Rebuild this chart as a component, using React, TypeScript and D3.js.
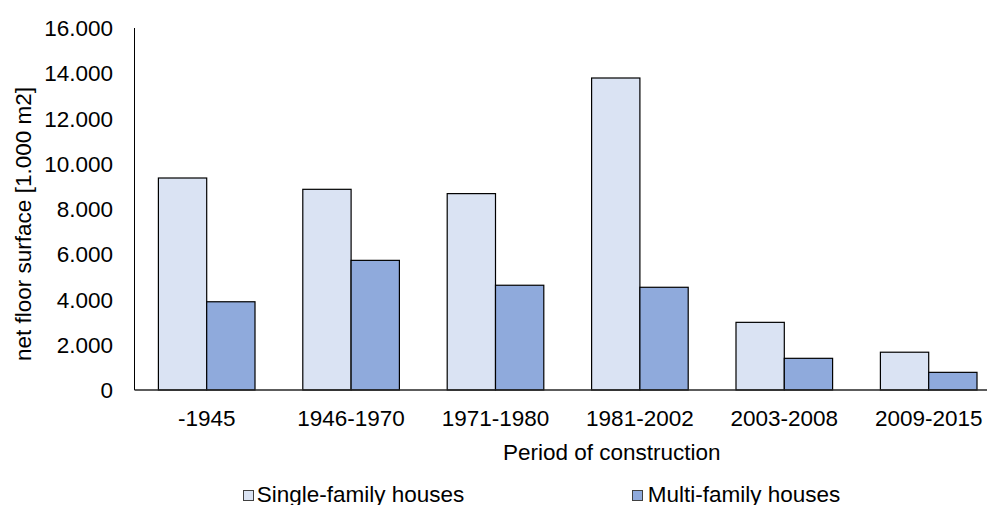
import React from "react";
import * as d3 from "d3";

const categories = ["-1945", "1946-1970", "1971-1980", "1981-2002", "2003-2008", "2009-2015"];
const singleFamily = [9370, 8870, 8680, 13790, 2990, 1670];
const multiFamily = [3900, 5730, 4630, 4540, 1400, 780];
const seriesNames = ["Single-family houses", "Multi-family houses"];
const yTicks = [0, 2000, 4000, 6000, 8000, 10000, 12000, 14000, 16000];

const W = 987;
const H = 505;
const FONT = "'Liberation Sans', Arial, sans-serif";
const FS = 22.5;
const colors = ["#DAE3F3", "#8FAADC"];

export default function App() {
  const x = d3
    .scaleBand<string>()
    .domain(categories)
    .range([134.5, 1000.9])
    .paddingInner(0.331)
    .paddingOuter(0.1655);
  const sub = d3.scaleBand<number>().domain([0, 1]).range([0, x.bandwidth()]);
  const y = d3.scaleLinear().domain([0, 16000]).range([390, 28]);
  const fmt = (v: number) => (v === 0 ? "0" : d3.format(",.0f")(v).replace(/,/g, "."));
  const series = [singleFamily, multiFamily];

  return (
    <svg
      width={W}
      height={H}
      style={{ position: "absolute", left: 0, top: 0, background: "#fff" }}
      fontFamily={FONT}
    >
      <rect width={W} height={H} fill="#fff" />
      {/* y tick labels */}
      {yTicks.map((t) => (
        <text key={t} x={113} y={y(t)} dy="0.36em" textAnchor="end" fontSize={FS} fill="#000">
          {fmt(t)}
        </text>
      ))}
      {/* bars */}
      {categories.map((c, i) =>
        series.map((s, k) => (
          <rect
            key={c + k}
            x={(x(c) as number) + (sub(k) as number)}
            y={y(s[i])}
            width={sub.bandwidth()}
            height={y(0) - y(s[i])}
            fill={colors[k]}
            stroke="#000"
            strokeWidth={1.2}
          />
        ))
      )}
      {/* axes */}
      <line x1={134.5} x2={134.5} y1={28} y2={390} stroke="#000" strokeWidth={1} />
      <line x1={134.5} x2={W} y1={390} y2={390} stroke="#262626" strokeWidth={1.6} />
      {/* x tick labels */}
      {categories.map((c) => (
        <text
          key={c}
          x={(x(c) as number) + x.bandwidth() / 2}
          y={425.5}
          textAnchor="middle"
          fontSize={FS}
          fill="#000"
        >
          {c}
        </text>
      ))}
      {/* axis titles */}
      <text x={611.7} y={460} textAnchor="middle" fontSize={FS} fill="#000">
        Period of construction
      </text>
      <text
        transform={`translate(31,224) rotate(-90)`}
        textAnchor="middle"
        fontSize={FS}
        fill="#000"
      >
        net floor surface [1.000 m2]
      </text>
      {/* legend */}
      {seriesNames.map((n, k) => {
        const bx = k === 0 ? 243.5 : 632.5;
        const tx = k === 0 ? 256.7 : 647.7;
        return (
          <g key={n}>
            <rect x={bx} y={490.5} width={10} height={10} fill={colors[k]} stroke="#404040" strokeWidth={1} />
            <text x={tx} y={501.5} fontSize={FS} fill="#000">
              {n}
            </text>
          </g>
        );
      })}
    </svg>
  );
}
